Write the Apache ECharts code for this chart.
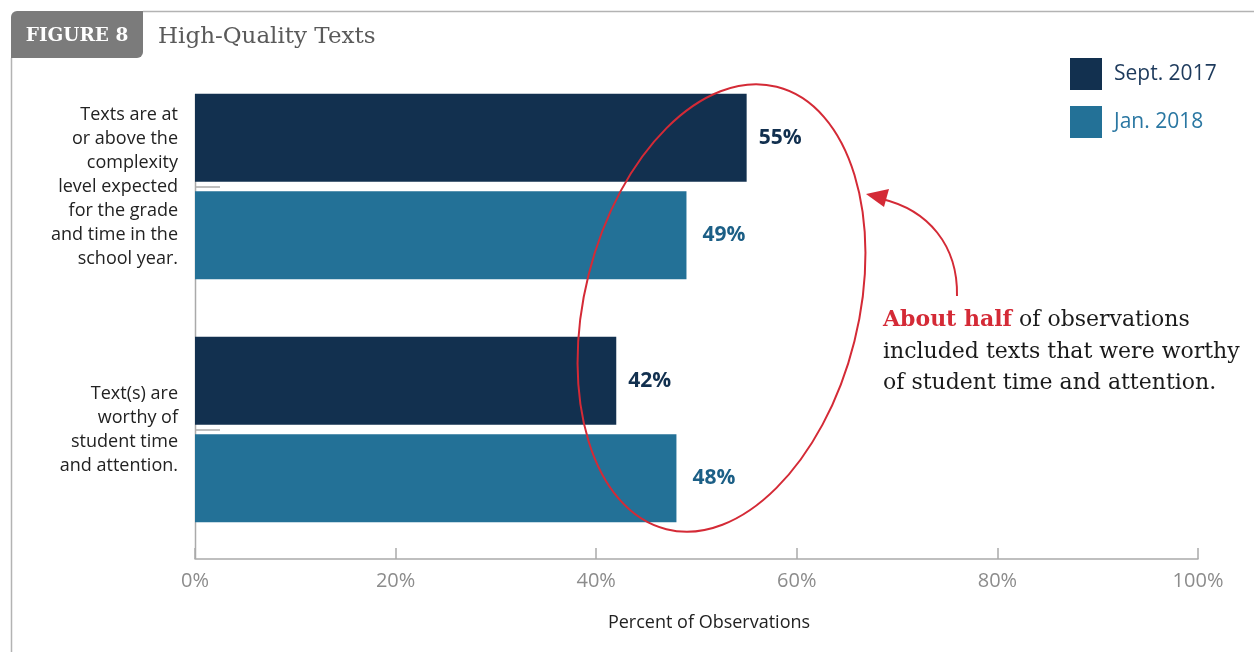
<!DOCTYPE html>
<html><head><meta charset="utf-8">
<script src="https://cdn.jsdelivr.net/npm/echarts@6/dist/echarts.min.js"></script>
<style>html,body{margin:0;padding:0;background:#fff}#c{width:1254px;height:652px}</style>
</head><body><div id="c"></div>
<script>
const categories = [
  'Texts are at\nor above the\ncomplexity\nlevel expected\nfor the grade\nand time in the\nschool year.',
  'Text(s) are\nworthy of\nstudent time\nand attention.'
];
const seriesNames = ['Sept. 2017', 'Jan. 2018'];
const sept2017 = [55, 42];
const jan2018 = [49, 48];
const xMin = 0, xMax = 100, xStep = 20;
const axisTitle = 'Percent of Observations';
const figureLabel = 'FIGURE 8';
const figureTitle = 'High-Quality Texts';

const NAVY = '#12304f', TEAL = '#237197', RED = '#d42a36';
const SANS = '"Open Sans", sans-serif';

const chart = echarts.init(document.getElementById('c'), null, {renderer: 'canvas'});
chart.setOption({
  animation: false,
  backgroundColor: '#fff',
  grid: {left: 195, right: 56, top: 65, bottom: 101},
  legend: {
    orient: 'vertical', left: 1065, top: 53, itemWidth: 32, itemHeight: 32, itemGap: 16,
    icon: 'rect',
    textStyle: {fontFamily: SANS, fontSize: 21, padding: [0, 0, 0, 7]},
    data: [
      {name: seriesNames[0], textStyle: {color: '#1d3a5c'}},
      {name: seriesNames[1], textStyle: {color: '#2a77a2'}}
    ]
  },
  xAxis: {
    type: 'value', min: xMin, max: xMax, interval: xStep, offset: 8,
    axisLine: {show: true, lineStyle: {color: '#aaa', width: 1.5}},
    axisTick: {show: true, inside: true, length: 11, lineStyle: {color: '#aaa', width: 1.5}},
    splitLine: {show: false},
    axisLabel: {formatter: '{value}%', color: '#8c8c8c', fontFamily: SANS, fontSize: 20, margin: 12},
    name: axisTitle, nameLocation: 'middle', nameGap: 55,
    nameTextStyle: {color: '#222', fontFamily: SANS, fontSize: 18, padding: [0, 0, 0, 25]}
  },
  yAxis: {
    type: 'category', data: categories, inverse: true,
    axisLine: {show: false},
    axisTick: {show: true, inside: true, length: 25, alignWithLabel: true, lineStyle: {color: '#aaa', width: 1.5}},
    axisLabel: {color: '#222', fontFamily: SANS, fontSize: 18, lineHeight: 24, margin: 17, align: 'right'}
  },
  series: [
    {name: seriesNames[0], type: 'bar', data: sept2017, barWidth: 88, barGap: '11%',
     itemStyle: {color: NAVY},
     label: {show: true, position: 'right', distance: 12, formatter: '{c}%', color: NAVY,
             fontFamily: SANS, fontWeight: 'bold', fontSize: 21}},
    {name: seriesNames[1], type: 'bar', data: jan2018, barWidth: 88, barGap: '11%',
     itemStyle: {color: TEAL},
     label: {show: true, position: 'right', distance: 16, formatter: '{c}%', color: '#1c5f86',
             fontFamily: SANS, fontWeight: 'bold', fontSize: 21}}
  ],
  graphic: [
    // frame
    {type: 'line', shape: {x1: 143, y1: 11.5, x2: 1254, y2: 11.5}, style: {stroke: '#b3b3b3', lineWidth: 1.5}, silent: true},
    {type: 'line', shape: {x1: 11.5, y1: 58, x2: 11.5, y2: 652}, style: {stroke: '#b3b3b3', lineWidth: 1.5}, silent: true},
    {type: 'rect', shape: {x: 11, y: 11, width: 132, height: 47, r: [6, 0, 6, 0]}, style: {fill: '#7b7b7b'}, silent: true},
    {type: 'text', x: 77, y: 36, style: {text: figureLabel, fill: '#fff', font: 'bold 18.5px "DejaVu Serif", serif', textAlign: 'center', textVerticalAlign: 'middle'}},
    {type: 'text', x: 158, y: 37, style: {text: figureTitle, fill: '#5a5a5a', font: '23px "DejaVu Serif", serif', textAlign: 'left', textVerticalAlign: 'middle'}},
    // y axis line
    {type: 'line', shape: {x1: 195.5, y1: 94, x2: 195.5, y2: 559}, style: {stroke: '#aaa', lineWidth: 1.5}, z: 1, silent: true},
    // ellipse annotation
    {type: 'ellipse', x: 721.5, y: 308, rotation: -14 * Math.PI / 180,
     shape: {cx: 0, cy: 0, rx: 137, ry: 228},
     style: {fill: null, stroke: RED, lineWidth: 2}, z: 100, silent: true},
    // arrow
    {type: 'bezierCurve', shape: {x1: 957, y1: 296, cpx1: 958, cpy1: 245, cpx2: 928, cpy2: 210, x2: 882, y2: 199},
     style: {fill: null, stroke: RED, lineWidth: 2}, z: 100, silent: true},
    {type: 'polygon', shape: {points: [[866, 194], [889, 189], [884, 207]]}, style: {fill: RED}, z: 100, silent: true},
    // annotation text
    {type: 'text', x: 883, y: 305, z: 100,
     style: {
       text: '{b|About half} of observations\nincluded texts that were worthy\nof student time and attention.',
       font: '22px "DejaVu Serif", serif', fill: '#1a1a1a', lineHeight: 31.5,
       rich: {b: {font: 'bold 22px "DejaVu Serif", serif', fill: RED, lineHeight: 31.5}}
     }}
  ]
});
</script></body></html>
